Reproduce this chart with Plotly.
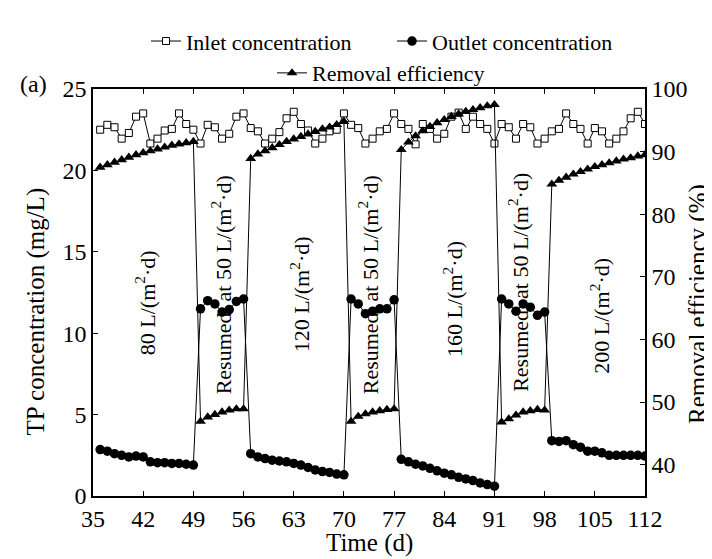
import plotly.graph_objects as go

# ---------------- data ----------------
days = list(range(36, 113))

inlet = [22.5, 22.8, 22.65, 21.95, 22.3, 23.3, 23.5,
         21.65, 21.95, 22.45, 22.55, 23.5, 22.85, 22.5,
         21.65, 22.8, 22.65, 21.95, 22.25, 23.3, 23.5,
         22.6, 22.4, 21.65, 21.95, 22.35, 23.2, 23.6,
         22.85, 22.45, 21.65, 21.95, 22.4, 22.5, 23.5,
         22.8, 22.6, 21.65, 21.95, 22.4, 22.55, 23.5,
         22.85, 22.55, 21.6, 22.85, 22.55, 21.95, 22.25,
         23.3, 23.55, 22.55, 23.3, 22.85, 22.55, 21.65,
         22.85, 22.65, 21.95, 22.85, 22.65, 21.65, 21.95,
         22.4, 22.55, 23.5, 22.85, 22.55, 21.65, 22.6,
         22.4, 21.65, 21.95, 22.4, 23.2, 23.6, 22.85]

outlet = [2.85, 2.75, 2.6, 2.5, 2.4, 2.45, 2.4, 2.1, 2.05, 2.05, 2.0, 2.0, 1.95, 1.9,
          11.5, 12.0, 11.8, 11.3, 11.45, 11.95, 12.1,
          2.6, 2.4, 2.3, 2.2, 2.15, 2.1, 2.0, 1.9, 1.75, 1.6, 1.5, 1.45, 1.35, 1.3,
          12.1, 11.8, 11.2, 11.35, 11.5, 11.5, 12.05,
          2.25, 2.1, 1.95, 1.85, 1.7, 1.55, 1.4, 1.3, 1.15, 1.05, 0.95, 0.8, 0.7, 0.6,
          12.1, 11.8, 11.35, 11.8, 11.6, 11.1, 11.3,
          3.4, 3.35, 3.4, 3.15, 3.0, 2.75, 2.75, 2.65, 2.5, 2.5, 2.5, 2.5, 2.5, 2.45]

removal = [87.5, 87.9, 88.3, 88.7, 89.1, 89.5, 89.8, 90.1, 90.4, 90.7, 91.0, 91.2, 91.4, 91.6,
           46.9, 47.6, 48.0, 48.4, 48.7, 48.9, 48.9,
           88.9, 89.6, 90.1, 90.6, 91.1, 91.6, 92.0, 92.4, 92.8, 93.2, 93.6, 93.9, 94.3, 94.8,
           46.9, 47.7, 48.1, 48.4, 48.6, 48.8, 48.9,
           90.3, 91.5, 92.5, 93.3, 94.0, 94.6, 95.1, 95.6, 96.0, 96.4, 96.7, 97.0, 97.3, 97.5,
           46.8, 47.3, 47.9, 48.4, 48.6, 48.8, 48.7,
           84.8, 85.4, 85.9, 86.4, 86.8, 87.2, 87.6, 87.9, 88.2, 88.5, 88.8, 89.0, 89.3, 89.5]

x_ticks = [35, 42, 49, 56, 63, 70, 77, 84, 91, 98, 105, 112]
y_ticks = [0, 5, 10, 15, 20, 25]
y2_ticks = [40, 50, 60, 70, 80, 90, 100]

phase_labels = ["80 L/(m<sup>2</sup>·d)",
                "Resumed\u00a0\u00a0at 50 L/(m<sup>2</sup>·d)",
                "120 L/(m<sup>2</sup>·d)",
                "Resumed\u00a0\u00a0at 50 L/(m<sup>2</sup>·d)",
                "160 L/(m<sup>2</sup>·d)",
                "Resumed\u00a0\u00a0at 50 L/(m<sup>2</sup>·d)",
                "200 L/(m<sup>2</sup>·d)"]

# ---------------- figure ----------------
FONT = "Liberation Serif, Times New Roman, serif"
fig = go.Figure()

fig.add_trace(go.Scatter(
    x=days, y=inlet, name="Inlet concentration", mode="lines+markers",
    line=dict(color="black", width=1),
    marker=dict(symbol="square", size=7, color="white",
                line=dict(color="black", width=1)),
    legend="legend", showlegend=True))

fig.add_trace(go.Scatter(
    x=days, y=outlet, name="Outlet concentration", mode="lines+markers",
    line=dict(color="black", width=1),
    marker=dict(symbol="circle", size=9.5, color="black"),
    legend="legend2", showlegend=True))

fig.add_trace(go.Scatter(
    x=days, y=removal, name="Removal efficiency", mode="lines+markers",
    line=dict(color="black", width=1),
    marker=dict(symbol="triangle-up", size=9.5, color="black"),
    yaxis="y2", legend="legend3", showlegend=True))

# phase label positions (layout)
label_pos = [(42.3, 11.86), (52.9, 12.96), (63.9, 12.4), (73.4, 12.96),
             (85.2, 12.1), (94.3, 13.1), (105.7, 11.06)]
annotations = []
for txt, (ax_, ay_) in zip(phase_labels, label_pos):
    annotations.append(dict(x=ax_, y=ay_, xref="x", yref="y", text=txt,
                            showarrow=False, textangle=-90,
                            xanchor="center", yanchor="middle",
                            font=dict(family=FONT, size=22, color="black")))

annotations += [
    dict(x=-0.1033, y=0.4535, xref="paper", yref="paper",
         text="TP concentration (mg/L)", showarrow=False, textangle=-90,
         xanchor="center", yanchor="middle",
         font=dict(family=FONT, size=25, color="black")),
    dict(x=1.0960, y=0.4719, xref="paper", yref="paper",
         text="Removal efficiency (%)", showarrow=False, textangle=-90,
         xanchor="center", yanchor="middle",
         font=dict(family=FONT, size=25, color="black")),
    dict(x=0.5, y=-0.1150, xref="paper", yref="paper",
         text="Time (d)", showarrow=False,
         xanchor="center", yanchor="middle",
         font=dict(family=FONT, size=25, color="black")),
    dict(x=-0.1078, y=1.0122, xref="paper", yref="paper",
         text="(a)", showarrow=False,
         xanchor="center", yanchor="middle",
         font=dict(family=FONT, size=24, color="black")),
]

axis_common = dict(showgrid=False, zeroline=False, showline=True,
                   linecolor="black", linewidth=1.5, ticks="inside",
                   ticklen=5, tickwidth=1.2, tickcolor="black",
                   tickfont=dict(family=FONT, size=24, color="black"))

legend_common = dict(orientation="h", xanchor="left", yanchor="middle",
                     font=dict(family=FONT, size=22, color="black"),
                     bgcolor="rgba(0,0,0,0)", borderwidth=0)

fig.update_layout(
    width=712, height=559,
    margin=dict(l=85, r=75, t=79, b=71),
    plot_bgcolor="white", paper_bgcolor="white",
    font=dict(family=FONT, color="black"),
    showlegend=True,
    xaxis=dict(range=[35, 112], tickvals=x_ticks, mirror="ticks", **axis_common),
    yaxis=dict(range=[0, 25], tickvals=y_ticks, **axis_common),
    yaxis2=dict(range=[35, 100], tickvals=y2_ticks, overlaying="y",
                side="right", **axis_common),
    legend=dict(x=0.0960, y=1.1174, **legend_common),
    legend2=dict(x=0.5417, y=1.1174, **legend_common),
    legend3=dict(x=0.3243, y=1.0391, **legend_common),
    annotations=annotations,
)

fig.write_html("out.html")
